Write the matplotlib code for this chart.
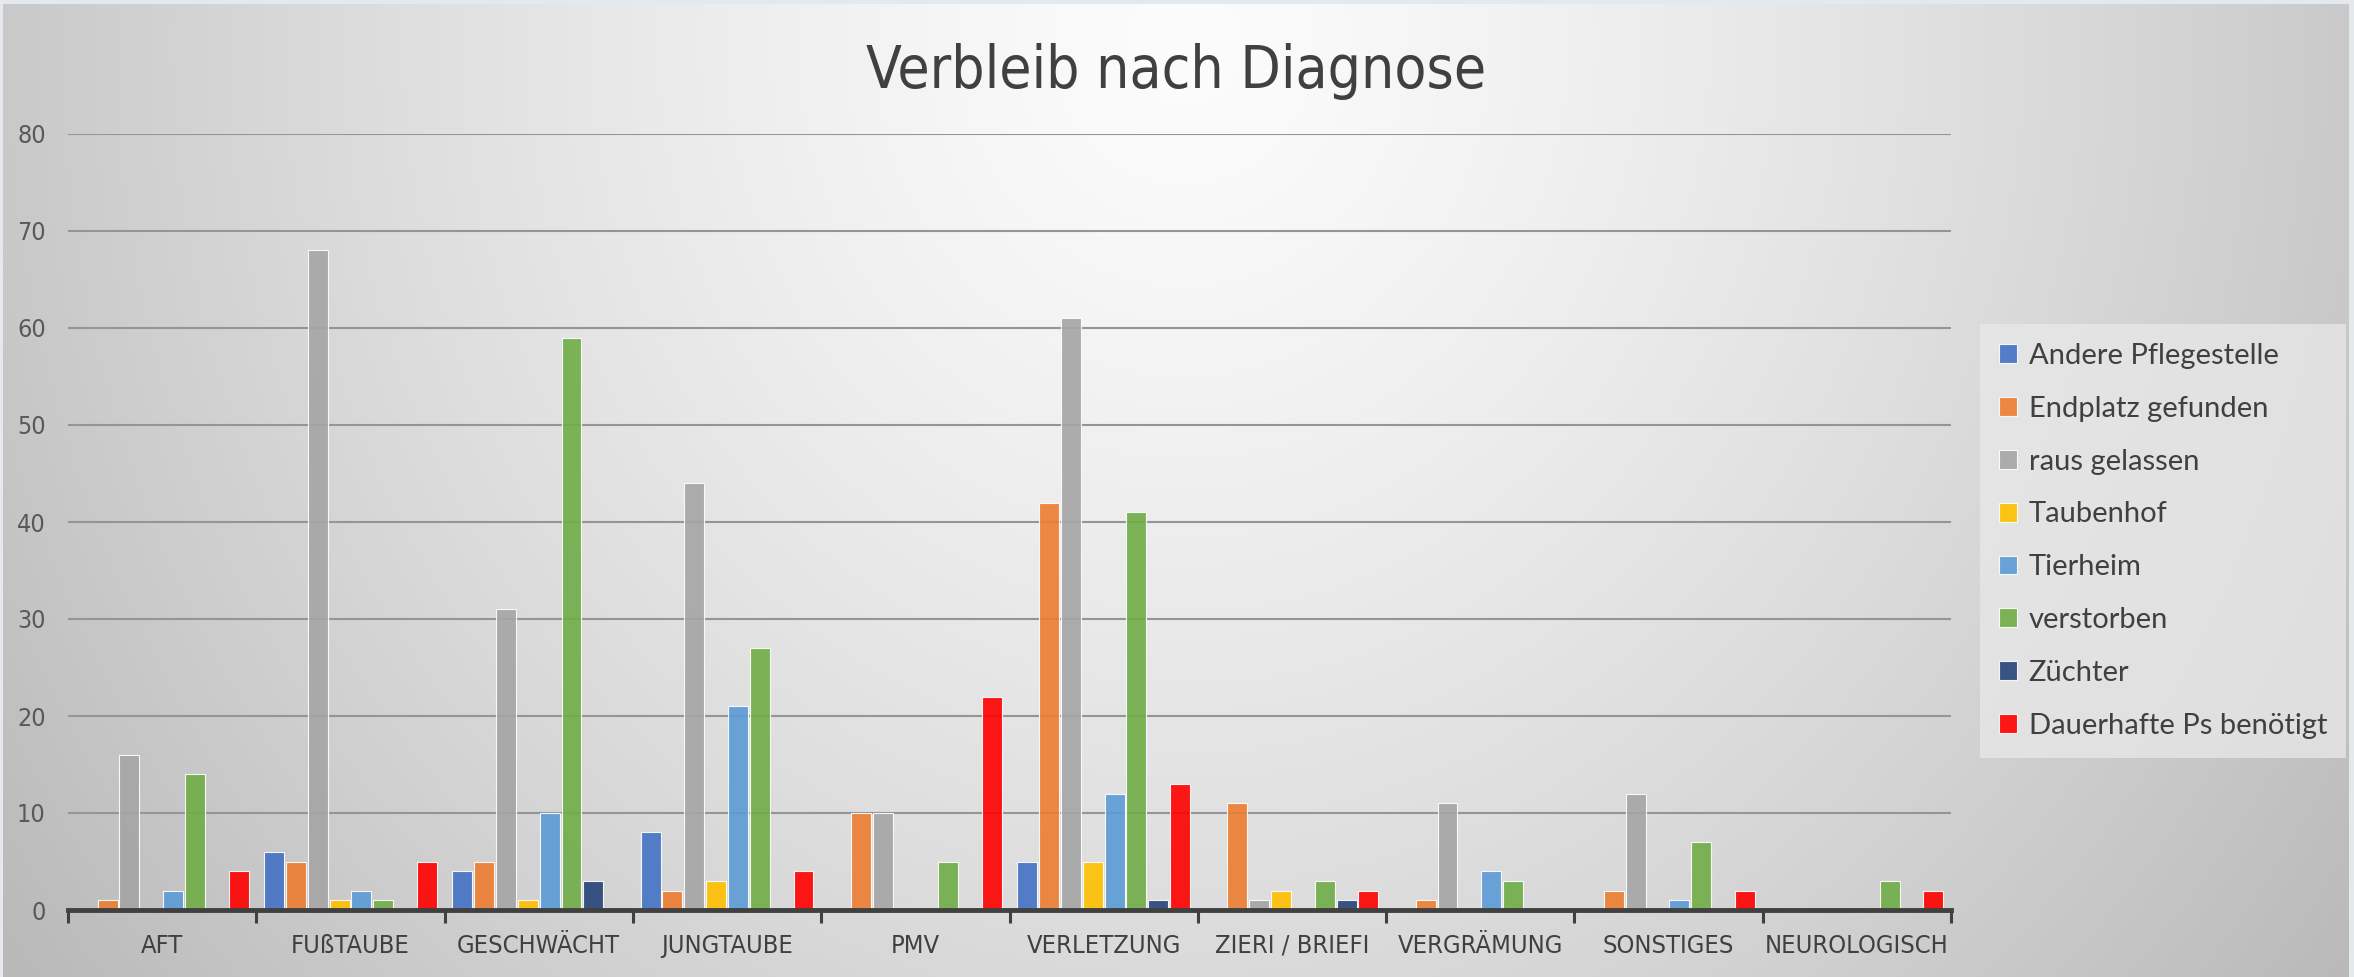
import numpy as np
import matplotlib
matplotlib.use("Agg")
import matplotlib.pyplot as plt
from matplotlib import font_manager as fm

# Data
categories = ["AFT", "FUßTAUBE", "GESCHWÄCHT", "JUNGTAUBE", "PMV", "VERLETZUNG",
              "ZIERI / BRIEFI", "VERGRÄMUNG", "SONSTIGES", "NEUROLOGISCH"]
series_names = ["Andere Pflegestelle", "Endplatz gefunden", "raus gelassen", "Taubenhof",
                "Tierheim", "verstorben", "Züchter", "Dauerhafte Ps benötigt"]
andere = [0, 6, 4, 8, 0, 5, 0, 0, 0, 0]
endplatz = [1, 5, 5, 2, 10, 42, 11, 1, 2, 0]
raus = [16, 68, 31, 44, 10, 61, 1, 11, 12, 0]
taubenhof = [0, 1, 1, 3, 0, 5, 2, 0, 0, 0]
tierheim = [2, 2, 10, 21, 0, 12, 0, 4, 1, 0]
verstorben = [14, 1, 59, 27, 5, 41, 3, 3, 7, 3]
zuechter = [0, 0, 3, 0, 0, 1, 1, 0, 0, 0]
dauerhaft = [4, 5, 0, 4, 22, 13, 2, 0, 2, 2]
yticks = [0, 10, 20, 30, 40, 50, 60, 70, 80]

values = [andere, endplatz, raus, taubenhof, tierheim, verstorben, zuechter, dauerhaft]
colors = ["#4472C4", "#ED7D31", "#A5A5A5", "#FFC000", "#5B9BD5", "#70AD47", "#264478", "#FF0000"]


# look for a narrow face, the chart uses a condensed font
def find_narrow():
    best = None
    for f in fm.fontManager.ttflist:
        nm = f.name.lower()
        narrowish = ("narrow" in nm or "condensed" in nm
                     or str(f.stretch) in ("condensed", "semi-condensed", "extra-condensed"))
        if not narrowish or f.style != "normal":
            continue
        w = f.weight if isinstance(f.weight, int) else 400
        score = abs(w - 400)
        if best is None or score < best[0]:
            best = (score, f.fname)
    return best[1] if best else None


npath = find_narrow()
if npath:
    narrow_fp = fm.FontProperties(fname=npath)
else:
    narrow_fp = fm.FontProperties(family=["Roboto", "DejaVu Sans"])

W, H = 2354, 977
fig = plt.figure(figsize=(W / 100, H / 100), dpi=100, facecolor="#e4e9ee")
renderer = fig.canvas.get_renderer()


def size_for(s, target_w, base=20.0):
    t = fig.text(0, 0, s, fontproperties=narrow_fp, fontsize=base)
    w = t.get_window_extent(renderer).width
    t.remove()
    return base * target_w / w


title_size = size_for("Verbleib nach Diagnose", 620)
cat_size = size_for("NEUROLOGISCH", 184)
tick_size = 18 if npath else size_for("80", 26)

# background gradient (bright at top centre, grey towards the edges)
bg = fig.add_axes([3 / W, 0, 2346 / W, 973 / H])
yy, xx = np.mgrid[0:973, 0:2346]
d = np.sqrt(((xx - 1180) / 1300.0) ** 2 + ((yy - 40) / 1400.0) ** 2)
v = np.clip(252 - 58 * d ** 1.3, 185, 252) / 255.0
bg.imshow(np.dstack([v, v, v]), aspect="auto", extent=[0, 1, 0, 1])
bg.set_axis_off()

ax = fig.add_axes([68 / W, 1 - 910 / H, (1951 - 68) / W, (910 - 134) / H])
ax.set_facecolor("none")

x = np.arange(len(categories))
pitch = 0.116
for k, (name, vals, c) in enumerate(zip(series_names, values, colors)):
    ax.bar(x + (k - 3.5) * pitch, vals, width=0.106, color=c, alpha=0.9,
           edgecolor=(1, 1, 1, 0.6), linewidth=0.8, label=name, zorder=3)

ax.set_xlim(-0.5, len(categories) - 0.5)
ax.set_ylim(0, 80)
ax.set_yticks(yticks)
ax.set_yticklabels([str(t) for t in yticks], fontproperties=narrow_fp, fontsize=tick_size,
                   color="#595959")
ax.tick_params(axis="y", length=0, pad=16)
ax.yaxis.grid(True, color="#959595", linewidth=1.5, zorder=1)
ax.set_axisbelow(True)

ax.set_xticks(np.arange(-0.5, len(categories)), labels=[])
ax.set_xticks(x, labels=categories, minor=True)
ax.tick_params(axis="x", which="major", length=9, width=2.2, color="#404040", direction="out")
ax.tick_params(axis="x", which="minor", length=0, pad=17)
for lab in ax.get_xticklabels(minor=True):
    lab.set_fontproperties(narrow_fp)
    lab.set_fontsize(cat_size)
    lab.set_color("#404040")

for s in ["top", "right", "left"]:
    ax.spines[s].set_visible(False)
ax.spines["bottom"].set_color("#404040")
ax.spines["bottom"].set_linewidth(3.5)
ax.spines["bottom"].set_zorder(4)

fig.text(1176 / W, 1 - 88 / H, "Verbleib nach Diagnose", ha="center", va="baseline",
         fontproperties=narrow_fp, fontsize=title_size, color="#404040")

leg = fig.legend(loc="upper left", bbox_to_anchor=(1980 / W, 1 - 324 / H), borderaxespad=0,
                 prop={"family": ["Lato", "DejaVu Sans"], "size": 21},
                 handlelength=0.62, handleheight=0.62, handletextpad=0.4,
                 labelspacing=0.92, borderpad=0.65, frameon=True, fancybox=False)
leg.get_frame().set_facecolor("#e9e9e9")
leg.get_frame().set_alpha(0.75)
leg.get_frame().set_edgecolor("none")
for t in leg.get_texts():
    t.set_color("#404040")

fig.savefig("out.png", dpi=100, facecolor=fig.get_facecolor())
